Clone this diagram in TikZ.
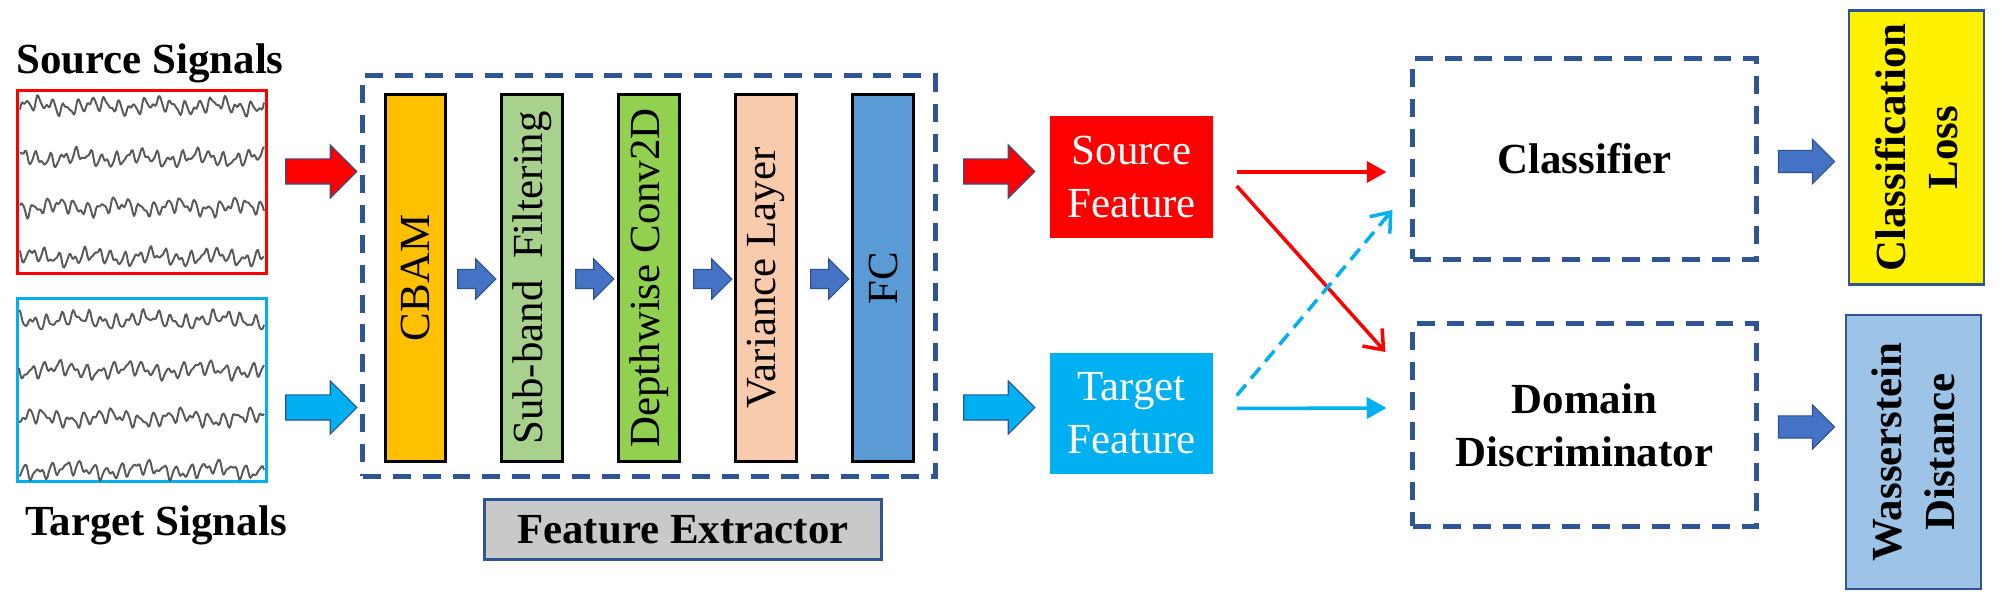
\documentclass[tikz,border=0pt]{standalone}
\usepackage{fontspec}
\setmainfont{Liberation Serif}
\newfontfamily\timesfont{Liberation Serif}
\usetikzlibrary{shapes.arrows,arrows.meta,calc}

\definecolor{srcred}{HTML}{FF0000}
\definecolor{tgtblue}{HTML}{00B0F0}
\definecolor{dashblue}{HTML}{2F5597}
\definecolor{arrline}{HTML}{2F528F}
\definecolor{arrblue}{HTML}{4472C4}
\definecolor{cbamc}{HTML}{FFC000}
\definecolor{sbfc}{HTML}{A9D18E}
\definecolor{dwcc}{HTML}{92D050}
\definecolor{varc}{HTML}{F8CBAD}
\definecolor{fcc}{HTML}{5B9BD5}
\definecolor{fegray}{HTML}{C9C9C9}
\definecolor{wdblue}{HTML}{9DC3E6}

\tikzset{
  every node/.style={font=\timesfont\fontsize{12.2}{15}\selectfont},
  boldtxt/.style={font=\timesfont\fontsize{12.2}{15}\selectfont\bfseries},
  sigbox/.style={draw, line width=0.85pt, minimum width=2.49cm, minimum height=1.83cm},
  layer/.style={draw=black, line width=0.85pt, rotate=90, minimum width=3.67cm, minimum height=0.6cm, inner sep=0pt},
  dashbox/.style={draw=dashblue, line width=1.4pt, dash pattern=on 5.1pt off 3.4pt},
  featbox/.style={text=white, align=center, minimum width=1.63cm, minimum height=1.21cm},
  lossbox/.style={draw=dashblue, line width=0.7pt, rotate=90, align=center, boldtxt, minimum width=2.74cm, minimum height=1.35cm},
  bigarrow/.style={single arrow, draw=arrline, line width=0.3pt, inner xsep=0pt, inner ysep=0.12cm, minimum height=0.71cm, minimum width=0.52cm, single arrow head extend=0.14cm},
  smallarrow/.style={bigarrow, fill=arrblue, inner ysep=0.09cm, minimum height=0.38cm, minimum width=0.39cm, single arrow head extend=0.105cm},
  lossarrow/.style={bigarrow, fill=arrblue, inner ysep=0.105cm, minimum height=0.56cm, minimum width=0.43cm, single arrow head extend=0.11cm},
  eeg/.style={draw=black!65, line width=0.55pt, line join=round},
  featline/.style={line width=1pt, -{Triangle[length=5.6pt,width=6pt]}},
  crossline/.style={line width=1pt, -{Straight Barb[length=4.8pt,width=7.5pt]}}
}

\begin{document}
\begin{tikzpicture}[x=0.01cm,y=-0.01cm]
\useasboundingbox (0,0) rectangle (2002,601);

% input signals
\node[boldtxt] (srctitle) at (150,63) {Source Signals};
\node[sigbox, draw=srcred] (srcsig) at (142,182) {};
\node[sigbox, draw=tgtblue] (tgtsig) at (142,390) {};
\node[boldtxt] (tgttitle) at (156,525) {Target Signals};

\foreach \row/\ph in {106/0,158/57,207/121,257/199}
  \draw[eeg] plot[domain=-122:122,samples=200] (142+\x,{\row-5*sin(27*\x+\ph)-3*sin(44*\x+2.3*\ph)-1.2*sin(71*\x+0.7*\ph)-3*sin(6*\x+1.9*\ph)});
\foreach \row/\ph in {320/33,370/88,418/150,470/260}
  \draw[eeg] plot[domain=-123:122,samples=200] (142+\x,{\row-5*sin(26*\x+\ph)-3*sin(41*\x+2.1*\ph)-1.2*sin(67*\x+0.9*\ph)-3*sin(5*\x+1.7*\ph)});

\node[bigarrow, fill=srcred] (srcin) at (315,171.5) {};
\node[bigarrow, fill=tgtblue] (tgtin) at (315,407.5) {};

% feature extractor
\node[dashbox, minimum width=5.72cm, minimum height=4cm] (fe) at (649,276) {};
\node[layer, fill=cbamc] (cbam) at (415.5,278) {CBAM};
\node[layer, fill=sbfc] (sbf) at (532,278) {Sub-band~~Filtering};
\node[layer, fill=dwcc] (dwc) at (649,278) {Depthwise Conv2D};
\node[layer, fill=varc] (var) at (766,278) {Variance Layer};
\node[layer, fill=fcc] (fc) at (883,278) {FC};
\node[smallarrow] (s1) at (472,279) {};
\node[smallarrow] (s2) at (590,279) {};
\node[smallarrow] (s3) at (708,279) {};
\node[smallarrow] (s4) at (825,279) {};
\node[boldtxt, draw=dashblue, line width=0.75pt, fill=fegray, minimum width=3.97cm, minimum height=0.6cm] (felabel) at (683,529.5) {Feature Extractor};

\node[bigarrow, fill=srcred] (srcout) at (993,171.5) {};
\node[bigarrow, fill=tgtblue] (tgtout) at (993,407.5) {};

% features
\node[featbox, fill=srcred] (srcfeat) at (1131.5,177) {Source\\Feature};
\node[featbox, fill=tgtblue] (tgtfeat) at (1131.5,413.5) {Target\\Feature};

% heads
\node[dashbox, boldtxt, minimum width=3.43cm, minimum height=2cm] (clf) at (1584.5,159) {Classifier};
\node[dashbox, boldtxt, align=center, minimum width=3.43cm, minimum height=2.02cm] (dd) at (1584.5,425) {Domain\\Discriminator};

\draw[featline, srcred] ($(srcfeat.east)+(23,-5)$) -- ($(clf.west)+(-24,13)$);
\draw[crossline, srcred] ($(srcfeat.east)+(23,9)$) -- ($(dd.west)+(-25,-73)$);
\draw[crossline, tgtblue, dash pattern=on 4pt off 2.3pt] ($(tgtfeat.east)+(23,-18)$) -- ($(clf.west)+(-18,51)$);
\draw[featline, tgtblue] ($(tgtfeat.east)+(23,-5)$) -- ($(dd.west)+(-24,-17)$);

% losses
\node[lossarrow] (clfout) at (1801,161.5) {};
\node[lossarrow] (ddout) at (1801,427) {};
\node[lossbox, fill=yellow] (closs) at (1916.5,147.5) {Classification\\Loss};
\node[lossbox, fill=wdblue] (wdist) at (1913.5,452) {Wasserstein\\Distance};
\end{tikzpicture}
\end{document}
